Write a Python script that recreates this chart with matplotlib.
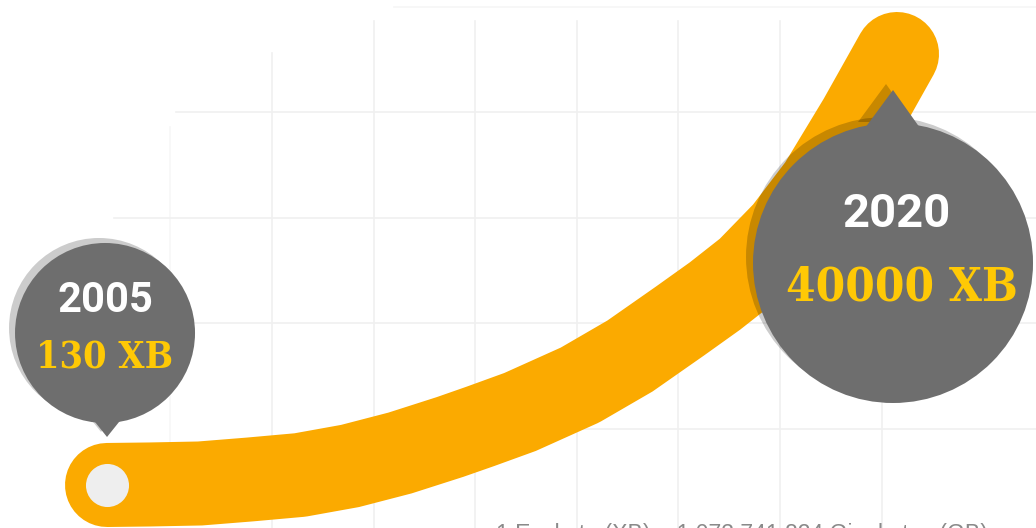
import matplotlib
matplotlib.use("Agg")
import matplotlib.pyplot as plt
from matplotlib.patches import Circle, Polygon
from matplotlib.transforms import Affine2D, ScaledTranslation

# ---------------- data ----------------
years = [2005, 2020]
volumes_xb = [130, 40000]
unit = "XB"
footnote = "1 Exabyte (XB) = 1,073,741,824 Gigabytes (GB)"

# centre line of the growth ribbon
# (level = % of the 2005 -> 2020 rise)
curve_year = [2005.000, 2005.816, 2006.766, 2007.715, 2008.665, 2009.614, 2010.563,
              2011.513, 2012.082, 2012.842, 2013.981, 2014.930, 2015.880, 2016.544,
              2017.171, 2017.873, 2018.538, 2019.297, 2020.000]
curve_level = [0.00, 0.12, 0.35, 1.28, 2.32, 4.41, 7.42,
               11.14, 13.57, 16.94, 23.20, 29.93, 38.05, 43.85,
               49.88, 58.70, 69.37, 84.69, 100.00]

# ---------------- style ----------------
W, H, DPI = 1036, 528, 100
ORANGE = "#FBAA00"
GRAY = "#6E6E6E"
YELLOW = "#FFC905"
DOT = "#EEEEEE"
GRID = "#F0F0F0"

fig = plt.figure(figsize=(W / DPI, H / DPI), dpi=DPI)
fig.patch.set_facecolor("white")
ax = fig.add_axes([0, 0, 1, 1])
ax.set_xlim(2002.968, 2022.639)
ax.set_ylim(-9.98, 112.53)
ax.axis("off")

# faint background grid
grid_x = [2008.13 + 1.93 * k for k in range(7)]
for i, gx in enumerate(grid_x):
    top = 0.90 if i == 0 else 0.96
    ax.axvline(gx, ymin=0.0, ymax=top, color=GRID, lw=1.2, zorder=0)
ax.axvline(2006.2, ymin=0.05, ymax=0.76, color="#F7F7F7", lw=1.2, zorder=0)
grid_y = [13.0, 37.5, 62.0, 86.5]
grid_start = [0.45, 0.16, 0.11, 0.17]
for gy, gs in zip(grid_y, grid_start):
    ax.axhline(gy, xmin=gs, xmax=1.0, color=GRID, lw=1.2, zorder=0)
ax.axhline(111.0, xmin=0.38, xmax=1.0, color="#F6F6F6", lw=1.2, zorder=0)

# growth ribbon
ax.plot(curve_year, curve_level, color=ORANGE, lw=60.5,
        solid_capstyle="round", solid_joinstyle="round", zorder=2)
ax.plot(curve_year[0], curve_level[0], "o", ms=31, color=DOT, mec="none", zorder=3)


def at(x, y, dx=0, dy=0):
    """pixel offset (dx right, dy up) from a data point"""
    return Affine2D().translate(dx, dy) + ScaledTranslation(x, y, ax.transData)


def pin(x, y, cdx, cdy, r, tip, base_l, base_r, shadow):
    sx, sy = shadow
    for (ox, oy, col, alpha, z) in [(sx, sy, "black", 0.2, 4), (0, 0, GRAY, 1.0, 5)]:
        tr = at(x, y, ox, oy)
        ax.add_patch(Circle((cdx, cdy), r, facecolor=col, alpha=alpha,
                            edgecolor="none", transform=tr, zorder=z))
        ax.add_patch(Polygon([base_l, tip, base_r], closed=True, facecolor=col,
                             alpha=alpha, edgecolor="none", transform=tr, zorder=z))


SLAB = ["DejaVu Serif"]
SANS = ["Roboto", "DejaVu Sans"]

# 2005 pin
x0, y0 = years[0], curve_level[0]
pin(x0, y0, -2, 152, 90, (0, 48), (-20, 73), (20, 73), (-6, 5))
ax.text(0, 0, str(years[0]), transform=at(x0, y0, -2, 173), ha="center", va="baseline",
        color="white", fontsize=30, fontweight="bold", family=SANS, zorder=6)
ax.text(0, 0, f"{volumes_xb[0]} {unit}", transform=at(x0, y0, -2, 117), ha="center",
        va="baseline", color=YELLOW, fontsize=27, fontweight="bold", fontstretch="condensed",
        family=SLAB, zorder=6)

# 2020 pin
x1, y1 = years[1], curve_level[-1]
pin(x1, y1, -4, -209, 140, (-4, -36), (-32, -74), (23, -74), (-7, 6))
ax.text(0, 0, str(years[1]), transform=at(x1, y1, -1, -173), ha="center", va="baseline",
        color="white", fontsize=34, fontweight="bold", family=SANS, zorder=6)
ax.text(0, 0, f"{volumes_xb[1]} {unit}", transform=at(x1, y1, 5, -246), ha="center",
        va="baseline", color=YELLOW, fontsize=34, fontweight="bold", fontstretch="condensed",
        family=SLAB, zorder=6)

# footnote (cut by the bottom edge, as in the original)
fig.text(496 / W, -12.5 / H, footnote, ha="left", va="baseline", color="#8A8A8A",
         fontsize=16.6, family=["Liberation Sans", "DejaVu Sans"])

fig.savefig("out.png", dpi=DPI, facecolor="white")
